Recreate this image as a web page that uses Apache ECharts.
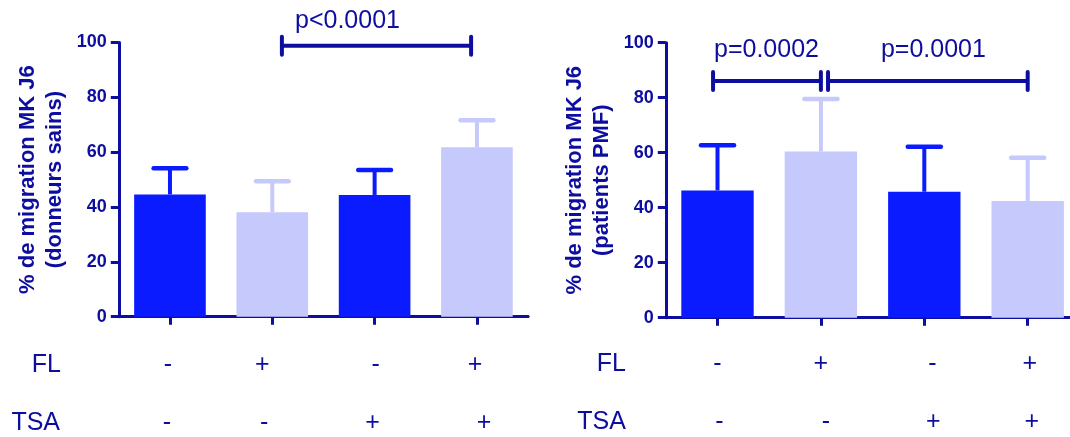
<!DOCTYPE html>
<html><head><meta charset="utf-8">
<script src="https://cdn.jsdelivr.net/npm/echarts@6.0.0/dist/echarts.min.js"></script>
<style>html,body{margin:0;padding:0;background:#fff}#c{width:1070px;height:437px}</style>
</head><body><div id="c"></div>
<script>
// ---------- data ----------
const categories = ['FL- TSA-', 'FL+ TSA-', 'FL- TSA+', 'FL+ TSA+'];
const yTicks = [0, 20, 40, 60, 80, 100];
const flLabels = ['-', '+', '-', '+'];
const tsaLabels = ['-', '-', '+', '+'];
const sainsMeans = [44.6, 38.1, 44.4, 61.8];
const sainsUpper = [54.1, 49.4, 53.5, 71.6];
const pmfMeans = [46.3, 60.4, 45.8, 42.4];
const pmfUpper = [62.7, 79.5, 62.2, 58.2];
// [from category, to category, y value, label]
const sainsBrackets = [[1, 3, 98.8, 'p<0.0001']];
const pmfBrackets = [[0, 1, 86.1, 'p=0.0002'], [1, 3, 86.1, 'p=0.0001']];
const yNameSains = '% de migration MK J6\n(donneurs sains)';
const yNamePmf = '% de migration MK J6\n(patients PMF)';

// ---------- style ----------
const NAVY = '#0D0DA0';
const DARK = '#0A1BFF';
const LIGHT = '#C6C9FB';
const barColors = [DARK, LIGHT, DARK, LIGHT];
const FONT = '"Liberation Sans", Arial, Helvetica, sans-serif';
// small label nudges (px) and bracket styling
const nudge = {
  sainsFL: [-2, -10, 1, -2], sainsTSA: [-3, -8, -2, 7],
  pmfFL: [0, 0, 8, 2], pmfTSA: [2, 5, 9, 4]
};
const bracketStyle = {
  sains: [{a: 0.094, b: -0.057, dx: -29, dy: 24.5}],
  pmf: [{a: -0.043, b: 0, dx: -0.5, dy: 31}, {a: 0.069, b: 0, dx: 5.5, dy: 31}]
};

const grids = [
  {left: 118.8, top: 42.5, width: 409.3, height: 274.2},
  {left: 665.8, top: 42.7, width: 413.6, height: 275}
];

function errRender(params, api) {
  const i = api.value(0);
  const p0 = api.coord([i, api.value(1)]);
  const p1 = api.coord([i, api.value(2)]);
  const bw = api.size([1, 0])[0];
  const hw = bw * 0.16;
  const col = barColors[i];
  return {type: 'group', children: [
    {type: 'line', shape: {x1: p0[0], y1: p0[1], x2: p1[0], y2: p1[1]}, style: {stroke: col, lineWidth: 4}},
    {type: 'line', shape: {x1: p1[0] - hw, y1: p1[1], x2: p1[0] + hw, y2: p1[1]}, style: {stroke: col, lineWidth: 4.5, lineCap: 'round'}}
  ]};
}

function makeBracketRender(list, styles) {
  return function (params, api) {
    const b = list[params.dataIndex];
    const s = styles[params.dataIndex];
    const bw = api.size([1, 0])[0];
    const pa = api.coord([b[0], b[2]]);
    const pb = api.coord([b[1], b[2]]);
    const x1 = pa[0] + s.a * bw, x2 = pb[0] + s.b * bw, y = pa[1];
    const ls = {stroke: NAVY, lineWidth: 4, lineCap: 'round'};
    return {type: 'group', children: [
      {type: 'line', shape: {x1: x1, y1: y, x2: x2, y2: y}, style: {stroke: NAVY, lineWidth: 4}},
      {type: 'line', shape: {x1: x1, y1: y - 9, x2: x1, y2: y + 9}, style: ls},
      {type: 'line', shape: {x1: x2, y1: y - 9, x2: x2, y2: y + 9}, style: ls},
      {type: 'text', x: (x1 + x2) / 2 + s.dx, y: y - s.dy,
        style: {text: b[3], fill: NAVY, font: '25px ' + FONT, align: 'center', verticalAlign: 'middle'}}
    ]};
  };
}

function mainX(gi) {
  return {
    type: 'category', gridIndex: gi, data: categories, boundaryGap: true,
    axisLine: {show: true, lineStyle: {color: NAVY, width: 3}},
    axisTick: {show: true, alignWithLabel: true, length: 8, lineStyle: {color: NAVY, width: 3}},
    axisLabel: {show: false}, splitLine: {show: false}
  };
}

function rowAxis(gi, labels, offset, name, nameGap, nudges) {
  const rich = {};
  labels.forEach((l, i) => {
    const d = nudges[i];
    rich['n' + i] = {
      fontSize: 25, fontFamily: FONT, color: NAVY,
      padding: d >= 0 ? [0, 0, 0, 2 * d] : [0, -2 * d, 0, 0]
    };
  });
  return {
    type: 'category', gridIndex: gi, data: categories, position: 'bottom', offset: offset,
    axisLine: {show: false}, axisTick: {show: false}, splitLine: {show: false},
    axisLabel: {show: true, interval: 0, margin: 0, verticalAlign: 'middle',
      fontSize: 25, fontFamily: FONT, color: NAVY,
      formatter: (v, i) => '{n' + i + '|' + labels[i] + '}', rich: rich},
    name: name, nameLocation: 'start', nameGap: nameGap,
    nameTextStyle: {color: NAVY, fontSize: 25, fontFamily: FONT, align: 'right', verticalAlign: 'middle'}
  };
}

function yAxis(gi, name) {
  return {
    type: 'value', gridIndex: gi, min: yTicks[0], max: yTicks[yTicks.length - 1],
    interval: yTicks[1] - yTicks[0],
    axisLine: {show: true, lineStyle: {color: NAVY, width: 3}},
    axisTick: {show: true, length: 8, lineStyle: {color: NAVY, width: 3}},
    axisLabel: {show: true, margin: 12, color: NAVY, fontSize: 18, fontWeight: 'bold', fontFamily: FONT},
    splitLine: {show: false},
    name: name, nameLocation: 'middle', nameGap: 50,
    nameTextStyle: {color: NAVY, fontSize: 22, fontWeight: 'bold', fontFamily: FONT, lineHeight: 27.5, align: 'center'}
  };
}

function barData(vals) {
  return vals.map((v, i) => ({value: v, itemStyle: {color: barColors[i]}}));
}
function errData(means, upper) {
  return means.map((m, i) => [i, m, upper[i]]);
}

const option = {
  animation: false,
  backgroundColor: '#ffffff',
  textStyle: {fontFamily: FONT},
  grid: grids.map(g => Object.assign({containLabel: false, outerBoundsMode: 'none'}, g)),
  xAxis: [
    mainX(0), mainX(1),
    rowAxis(0, flLabels, 48.3, 'FL', 58, nudge.sainsFL),
    rowAxis(0, tsaLabels, 106.3, 'TSA', 58.8, nudge.sainsTSA),
    rowAxis(1, flLabels, 46.3, 'FL', 40, nudge.pmfFL),
    rowAxis(1, tsaLabels, 104, 'TSA', 40, nudge.pmfTSA)
  ],
  yAxis: [yAxis(0, yNameSains), yAxis(1, yNamePmf)],
  series: [
    {type: 'custom', xAxisIndex: 0, yAxisIndex: 0, z: 1, renderItem: errRender,
      encode: {x: 0, y: [1, 2]}, data: errData(sainsMeans, sainsUpper), clip: false},
    {type: 'bar', xAxisIndex: 0, yAxisIndex: 0, z: 2, barWidth: '70%', data: barData(sainsMeans)},
    {type: 'custom', xAxisIndex: 0, yAxisIndex: 0, z: 3, clip: false,
      renderItem: makeBracketRender(sainsBrackets, bracketStyle.sains),
      encode: {x: 0, y: 2}, data: sainsBrackets.map(b => [b[0], b[1], b[2]])},
    {type: 'custom', xAxisIndex: 1, yAxisIndex: 1, z: 1, renderItem: errRender,
      encode: {x: 0, y: [1, 2]}, data: errData(pmfMeans, pmfUpper), clip: false},
    {type: 'bar', xAxisIndex: 1, yAxisIndex: 1, z: 2, barWidth: '70%', data: barData(pmfMeans)},
    {type: 'custom', xAxisIndex: 1, yAxisIndex: 1, z: 3, clip: false,
      renderItem: makeBracketRender(pmfBrackets, bracketStyle.pmf),
      encode: {x: 0, y: 2}, data: pmfBrackets.map(b => [b[0], b[1], b[2]])}
  ]
};

const chart = echarts.init(document.getElementById('c'), null, {renderer: 'canvas'});
chart.setOption(option);
</script>
</body></html>
